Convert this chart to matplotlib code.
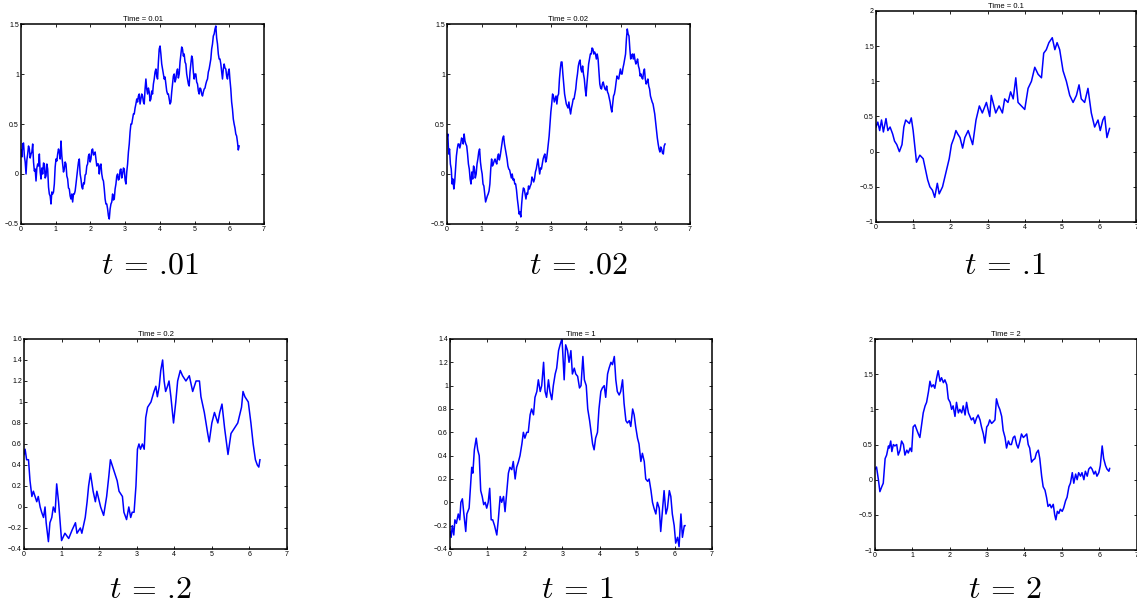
import numpy as np
import matplotlib
matplotlib.use('Agg')
import matplotlib.pyplot as plt

plt.rcParams['mathtext.fontset'] = 'cm'
plt.rcParams['font.family'] = ['Liberation Sans', 'DejaVu Sans']

# ---- data (panels on [0, 2*pi]) ----
times = ['0.01', '0.02', '0.1', '0.2', '1', '2']
label_vals = ['.01', '.02', '.1', '.2', '1', '2']

y_t001 = [0.24, 0.17, 0.3, 0.31, 0.18, 0.12, 0.0, 0.14, 0.2, 0.28, 0.25, 0.16, 0.2, 0.22, 0.3, 0.12, 0.03, 0.05, -0.07, 0.06,
          0.1, 0.08, 0.2, 0.02, -0.05, 0.06, 0.0, 0.11, 0.1, -0.04, -0.02, 0.1, 0.05, -0.13, -0.2, -0.22, -0.3, -0.18, -0.2, -0.18,
          -0.1, 0.07, 0.15, 0.13, 0.2, 0.25, 0.22, 0.15, 0.33, 0.18, 0.1, 0.02, 0.05, 0.12, 0.1, -0.02, -0.05, -0.14, -0.15, -0.22,
          -0.25, -0.2, -0.28, -0.2, -0.2, -0.17, -0.1, -0.02, 0.05, 0.12, 0.15, 0.0, -0.05, -0.13, -0.15, -0.09, -0.1, -0.01, 0.0, 0.08,
          0.1, 0.18, 0.2, 0.12, 0.15, 0.24, 0.25, 0.19, 0.2, 0.22, 0.15, 0.08, 0.1, 0.1, 0.0, 0.08, 0.1, 0.0, -0.05, -0.07,
          -0.15, -0.25, -0.3, -0.3, -0.35, -0.42, -0.45, -0.35, -0.3, -0.28, -0.2, -0.26, -0.25, -0.15, -0.1, -0.02, 0.0, -0.06, -0.05, 0.04,
          0.05, -0.04, 0.0, 0.06, 0.05, -0.06, -0.1, 0.02, 0.1, 0.22, 0.3, 0.42, 0.5, 0.5, 0.55, 0.6, 0.6, 0.66, 0.7, 0.75,
          0.72, 0.78, 0.8, 0.7, 0.75, 0.8, 0.78, 0.72, 0.7, 0.85, 0.95, 0.85, 0.8, 0.86, 0.82, 0.73, 0.75, 0.83, 0.8, 0.9,
          0.95, 1.02, 1.05, 0.98, 0.95, 1.12, 1.25, 1.28, 1.2, 1.1, 1.05, 1.0, 0.95, 0.97, 0.9, 0.83, 0.8, 0.8, 0.75, 0.7,
          0.72, 0.82, 0.9, 0.98, 1.0, 0.92, 0.95, 1.02, 1.05, 0.96, 1.0, 1.12, 1.2, 1.27, 1.25, 1.18, 1.2, 1.12, 1.1, 1.0,
          0.95, 0.9, 0.88, 1.02, 1.1, 1.18, 1.15, 1.02, 0.95, 1.0, 1.0, 0.92, 0.9, 0.83, 0.8, 0.86, 0.85, 0.8, 0.78, 0.82,
          0.85, 0.86, 0.9, 0.93, 0.95, 1.02, 1.05, 1.1, 1.15, 1.25, 1.3, 1.38, 1.4, 1.45, 1.48, 1.36, 1.3, 1.2, 1.15, 1.15,
          1.1, 1.02, 0.95, 1.05, 1.1, 1.06, 1.05, 0.98, 0.95, 1.02, 1.05, 0.94, 0.85, 0.72, 0.65, 0.55, 0.5, 0.46, 0.4, 0.38,
          0.32, 0.24, 0.28]

y_t002 = [0.35, 0.4, 0.2, 0.25, 0.1, 0.05, -0.1, -0.05, -0.15, -0.08, 0.05, 0.18, 0.25, 0.3, 0.3, 0.26, 0.3, 0.36, 0.35, 0.3,
          0.4, 0.33, 0.3, 0.28, 0.2, 0.1, 0.05, -0.05, -0.1, 0.02, -0.05, 0.08, 0.05, -0.04, 0.0, 0.1, 0.15, 0.22, 0.25, 0.12,
          0.05, 0.0, -0.1, -0.12, -0.2, -0.28, -0.25, -0.22, -0.2, -0.17, -0.1, 0.05, 0.15, 0.08, 0.1, 0.13, 0.15, 0.12, 0.1, 0.17,
          0.2, 0.14, 0.18, 0.24, 0.3, 0.36, 0.38, 0.3, 0.25, 0.2, 0.15, 0.08, 0.05, 0.04, 0.0, -0.04, 0.0, -0.06, -0.05, -0.1,
          -0.1, -0.16, -0.25, -0.32, -0.4, -0.38, -0.43, -0.3, -0.2, -0.14, -0.15, -0.2, -0.25, -0.19, -0.2, -0.12, -0.15, -0.12, -0.1, -0.03,
          -0.05, -0.08, -0.05, 0.02, 0.05, 0.1, 0.15, 0.07, 0.0, 0.06, 0.05, 0.1, 0.15, 0.18, 0.2, 0.12, 0.15, 0.22, 0.3, 0.38,
          0.5, 0.62, 0.7, 0.8, 0.78, 0.72, 0.75, 0.78, 0.7, 0.78, 0.8, 0.95, 1.05, 1.12, 1.12, 1.0, 0.9, 0.8, 0.75, 0.7,
          0.68, 0.66, 0.72, 0.65, 0.6, 0.66, 0.7, 0.75, 0.75, 0.8, 0.85, 0.94, 1.0, 1.08, 1.12, 1.14, 1.05, 1.02, 1.08, 1.0,
          0.95, 0.85, 0.78, 0.9, 1.0, 1.1, 1.15, 1.2, 1.2, 1.26, 1.25, 1.2, 1.22, 1.2, 1.15, 1.2, 1.15, 1.02, 0.9, 0.86,
          0.85, 0.9, 0.92, 0.88, 0.85, 0.84, 0.88, 0.82, 0.8, 0.76, 0.72, 0.66, 0.62, 0.7, 0.78, 0.8, 0.85, 0.92, 0.98, 0.96,
          0.95, 1.0, 1.05, 1.0, 1.0, 1.06, 1.1, 1.15, 1.2, 1.35, 1.45, 1.4, 1.38, 1.25, 1.15, 1.18, 1.2, 1.15, 1.2, 1.14,
          1.1, 1.12, 1.15, 1.08, 1.05, 0.98, 1.0, 0.96, 0.95, 1.02, 1.05, 0.95, 0.9, 0.92, 0.95, 0.88, 0.85, 0.78, 0.75, 0.72,
          0.7, 0.65, 0.6, 0.52, 0.45, 0.36, 0.3, 0.25, 0.22, 0.27, 0.25, 0.21, 0.2, 0.28, 0.3]

x_t01 = [0.0, 0.05, 0.1, 0.15, 0.2, 0.27, 0.32, 0.38, 0.45, 0.5,
         0.56, 0.63, 0.7, 0.75, 0.8, 0.9, 0.95, 1.0, 1.09, 1.18,
         1.27, 1.33, 1.39, 1.45, 1.52, 1.58, 1.65, 1.7, 1.79, 1.88,
         1.97, 2.03, 2.1, 2.15, 2.2, 2.26, 2.33, 2.39, 2.48, 2.6,
         2.69, 2.78, 2.86, 2.97, 3.06, 3.1, 3.22, 3.31, 3.4, 3.46,
         3.55, 3.62, 3.69, 3.76, 3.82, 3.91, 4.0, 4.09, 4.18, 4.27,
         4.36, 4.45, 4.51, 4.58, 4.65, 4.74, 4.81, 4.87, 4.94, 5.03,
         5.12, 5.21, 5.3, 5.39, 5.46, 5.52, 5.61, 5.7, 5.79, 5.88,
         5.97, 6.03, 6.1, 6.15, 6.21, 6.28]
y_t01 = [0.35, 0.42, 0.3, 0.45, 0.28, 0.47, 0.3, 0.35, 0.25, 0.15,
         0.1, 0.0, 0.1, 0.35, 0.45, 0.4, 0.48, 0.3, -0.15, -0.05,
         -0.1, -0.25, -0.4, -0.5, -0.55, -0.65, -0.45, -0.6, -0.5, -0.3,
         -0.1, 0.1, 0.2, 0.3, 0.25, 0.2, 0.05, 0.2, 0.3, 0.1,
         0.45, 0.65, 0.55, 0.7, 0.5, 0.8, 0.55, 0.65, 0.55, 0.75,
         0.7, 0.85, 0.75, 1.05, 0.7, 0.65, 0.6, 0.9, 1.0, 1.2,
         1.1, 1.05, 1.4, 1.45, 1.55, 1.62, 1.45, 1.55, 1.45, 1.15,
         1.0, 0.8, 0.7, 0.8, 0.95, 0.75, 0.7, 0.9, 0.55, 0.35,
         0.45, 0.3, 0.45, 0.5, 0.2, 0.33]

x_t02 = [0.0, 0.03, 0.07, 0.12, 0.16, 0.21, 0.25, 0.34, 0.38, 0.43,
         0.47, 0.52, 0.56, 0.59, 0.65, 0.69, 0.74, 0.78, 0.83, 0.87,
         0.92, 1.0, 1.09, 1.19, 1.28, 1.37, 1.41, 1.5, 1.54, 1.63,
         1.68, 1.72, 1.77, 1.84, 1.9, 1.94, 2.04, 2.12, 2.2, 2.26,
         2.3, 2.39, 2.48, 2.53, 2.62, 2.66, 2.73, 2.79, 2.84, 2.88,
         2.93, 2.98, 3.02, 3.06, 3.1, 3.15, 3.2, 3.24, 3.29, 3.38,
         3.46, 3.51, 3.55, 3.6, 3.64, 3.69, 3.73, 3.77, 3.82, 3.86,
         3.91, 3.98, 4.04, 4.09, 4.16, 4.22, 4.31, 4.4, 4.49, 4.58,
         4.67, 4.71, 4.8, 4.89, 4.93, 5.0, 5.07, 5.16, 5.21, 5.27,
         5.34, 5.43, 5.51, 5.6, 5.69, 5.79, 5.83, 5.88, 5.97, 6.04,
         6.1, 6.16, 6.21, 6.25, 6.28]
y_t02 = [0.5, 0.55, 0.45, 0.45, 0.25, 0.1, 0.15, 0.05, 0.1, 0.0,
         -0.05, -0.1, 0.0, -0.15, -0.33, -0.15, -0.1, 0.0, -0.05, 0.22,
         0.05, -0.32, -0.25, -0.3, -0.22, -0.15, -0.25, -0.2, -0.25, -0.1,
         0.05, 0.2, 0.32, 0.15, 0.05, 0.15, 0.0, -0.08, 0.1, 0.3,
         0.45, 0.35, 0.25, 0.15, 0.1, -0.05, -0.12, 0.0, -0.1, -0.05,
         -0.05, 0.2, 0.55, 0.6, 0.55, 0.6, 0.55, 0.85, 0.95, 1.0,
         1.1, 1.15, 1.05, 1.15, 1.3, 1.4, 1.2, 1.1, 1.15, 1.2,
         1.05, 0.8, 1.0, 1.2, 1.3, 1.25, 1.2, 1.25, 1.1, 1.2,
         1.2, 1.05, 0.9, 0.7, 0.62, 0.8, 0.9, 0.8, 0.9, 0.98,
         0.75, 0.5, 0.7, 0.75, 0.8, 0.95, 1.1, 1.05, 1.0, 0.8,
         0.6, 0.45, 0.4, 0.38, 0.45]

x_t1 = [0.0, 0.03, 0.06, 0.1, 0.13, 0.17, 0.22, 0.26, 0.29, 0.33,
        0.37, 0.42, 0.45, 0.51, 0.54, 0.58, 0.61, 0.65, 0.7, 0.74,
        0.78, 0.82, 0.86, 0.9, 0.94, 0.98, 1.02, 1.06, 1.1, 1.14,
        1.19, 1.25, 1.29, 1.34, 1.38, 1.43, 1.47, 1.52, 1.56, 1.6,
        1.65, 1.69, 1.74, 1.78, 1.83, 1.87, 1.92, 1.96, 2.0, 2.05,
        2.09, 2.14, 2.18, 2.23, 2.27, 2.32, 2.36, 2.41, 2.45, 2.5,
        2.54, 2.58, 2.63, 2.67, 2.72, 2.76, 2.81, 2.85, 2.9, 2.94,
        2.99, 3.01, 3.05, 3.09, 3.14, 3.18, 3.23, 3.27, 3.32, 3.36,
        3.41, 3.46, 3.5, 3.55, 3.59, 3.64, 3.68, 3.73, 3.77, 3.81,
        3.85, 3.89, 3.94, 3.98, 4.03, 4.07, 4.12, 4.16, 4.21, 4.25,
        4.3, 4.34, 4.39, 4.43, 4.47, 4.52, 4.56, 4.61, 4.65, 4.7,
        4.74, 4.79, 4.83, 4.88, 4.92, 4.96, 5.01, 5.05, 5.1, 5.14,
        5.19, 5.23, 5.28, 5.32, 5.37, 5.41, 5.45, 5.5, 5.54, 5.59,
        5.63, 5.68, 5.72, 5.77, 5.81, 5.86, 5.9, 5.94, 5.99, 6.03,
        6.08, 6.12, 6.17, 6.21, 6.26, 6.28]
y_t1 = [-0.25, -0.3, -0.2, -0.28, -0.15, -0.18, -0.1, -0.15, 0.0, 0.03,
        -0.1, -0.25, -0.1, -0.05, 0.1, 0.3, 0.25, 0.45, 0.55, 0.45,
        0.4, 0.1, 0.05, -0.02, 0.0, -0.05, 0.0, 0.12, -0.15, -0.15,
        -0.2, -0.28, -0.15, 0.05, 0.0, 0.05, -0.08, 0.1, 0.25, 0.3,
        0.28, 0.35, 0.2, 0.3, 0.35, 0.4, 0.5, 0.6, 0.55, 0.6,
        0.6, 0.75, 0.8, 0.75, 0.9, 0.95, 1.05, 0.95, 1.0, 1.2,
        0.95, 0.9, 1.05, 0.95, 0.88, 1.0, 1.1, 1.15, 1.3, 1.35,
        1.4, 1.3, 1.05, 1.35, 1.3, 1.2, 1.3, 1.1, 1.15, 1.1,
        1.08, 0.98, 1.0, 1.25, 1.05, 1.0, 0.8, 0.7, 0.6, 0.5,
        0.45, 0.55, 0.6, 0.8, 0.95, 0.98, 1.0, 0.9, 1.1, 1.15,
        1.2, 1.18, 1.25, 1.05, 0.95, 0.92, 0.95, 1.05, 0.85, 0.7,
        0.68, 0.7, 0.65, 0.8, 0.75, 0.65, 0.55, 0.5, 0.35, 0.42,
        0.35, 0.2, 0.18, 0.2, 0.1, 0.0, -0.05, -0.1, 0.0, -0.05,
        -0.25, -0.05, 0.1, -0.1, -0.05, 0.1, 0.05, -0.1, -0.2, -0.35,
        -0.3, -0.38, -0.1, -0.3, -0.2, -0.2]

x_t2 = [0.0, 0.04, 0.09, 0.13, 0.18, 0.22, 0.27, 0.31, 0.36, 0.38,
        0.42, 0.45, 0.49, 0.53, 0.58, 0.62, 0.67, 0.71, 0.76, 0.8,
        0.85, 0.89, 0.94, 0.98, 1.02, 1.07, 1.11, 1.16, 1.2, 1.25,
        1.29, 1.34, 1.38, 1.43, 1.47, 1.51, 1.56, 1.6, 1.65, 1.69,
        1.74, 1.78, 1.83, 1.87, 1.92, 1.96, 2.01, 2.05, 2.09, 2.14,
        2.18, 2.23, 2.27, 2.32, 2.36, 2.41, 2.45, 2.5, 2.54, 2.58,
        2.63, 2.67, 2.72, 2.76, 2.81, 2.85, 2.9, 2.94, 2.99, 3.03,
        3.07, 3.12, 3.16, 3.21, 3.25, 3.3, 3.34, 3.39, 3.43, 3.48,
        3.52, 3.57, 3.61, 3.65, 3.7, 3.74, 3.79, 3.83, 3.88, 3.92,
        3.97, 4.01, 4.06, 4.1, 4.14, 4.19, 4.23, 4.28, 4.32, 4.37,
        4.41, 4.46, 4.5, 4.55, 4.59, 4.63, 4.68, 4.72, 4.77, 4.81,
        4.84, 4.88, 4.92, 4.96, 5.01, 5.05, 5.1, 5.14, 5.19, 5.23,
        5.28, 5.32, 5.37, 5.41, 5.45, 5.5, 5.54, 5.59, 5.63, 5.68,
        5.72, 5.77, 5.81, 5.86, 5.9, 5.94, 5.99, 6.03, 6.08, 6.12,
        6.17, 6.21, 6.26, 6.28]
y_t2 = [0.15, 0.18, 0.0, -0.17, -0.1, -0.05, 0.3, 0.35, 0.48, 0.45,
        0.55, 0.4, 0.5, 0.48, 0.5, 0.35, 0.42, 0.55, 0.5, 0.35,
        0.42, 0.38, 0.45, 0.4, 0.75, 0.78, 0.72, 0.65, 0.6, 0.8,
        0.95, 1.05, 1.1, 1.25, 1.4, 1.32, 1.35, 1.3, 1.45, 1.55,
        1.4, 1.45, 1.38, 1.42, 1.35, 1.15, 1.1, 1.0, 1.05, 0.9,
        1.1, 0.95, 1.0, 0.95, 1.05, 0.92, 1.1, 0.95, 0.9, 0.85,
        0.88, 0.8, 0.88, 0.92, 0.85, 0.75, 0.65, 0.52, 0.75, 0.78,
        0.85, 0.8, 0.82, 0.85, 1.15, 1.05, 1.0, 0.9, 0.7, 0.6,
        0.45, 0.55, 0.5, 0.5, 0.6, 0.62, 0.5, 0.45, 0.55, 0.65,
        0.6, 0.62, 0.65, 0.5, 0.45, 0.25, 0.28, 0.3, 0.38, 0.42,
        0.3, 0.05, -0.1, -0.15, -0.25, -0.38, -0.35, -0.4, -0.35, -0.5,
        -0.57, -0.45, -0.48, -0.42, -0.45, -0.4, -0.3, -0.25, -0.1, -0.05,
        0.1, -0.05, 0.08, 0.0, 0.1, 0.05, 0.1, 0.0, 0.12, 0.05,
        0.15, 0.18, 0.15, 0.08, 0.12, 0.05, 0.1, 0.2, 0.48, 0.3,
        0.2, 0.15, 0.12, 0.16]

xs = [np.linspace(0, 2 * np.pi, len(y_t001)), np.linspace(0, 2 * np.pi, len(y_t002)),
      x_t01, x_t02, x_t1, x_t2]
ys = [y_t001, y_t002, y_t01, y_t02, y_t1, y_t2]
ylims = [(-0.5, 1.5), (-0.5, 1.5), (-1, 2), (-0.4, 1.6), (-0.4, 1.4), (-1, 2)]
yticks = [[-0.5, 0, 0.5, 1, 1.5], [-0.5, 0, 0.5, 1, 1.5], [-1, -0.5, 0, 0.5, 1, 1.5, 2],
          [-0.4, -0.2, 0, 0.2, 0.4, 0.6, 0.8, 1, 1.2, 1.4, 1.6],
          [-0.4, -0.2, 0, 0.2, 0.4, 0.6, 0.8, 1, 1.2, 1.4],
          [-1, -0.5, 0, 0.5, 1, 1.5, 2]]

# axes rectangles in figure fraction
rects = [[0.0185, 0.6334, 0.2137, 0.3273],
         [0.3931, 0.6334, 0.2137, 0.3273],
         [0.7704, 0.6367, 0.2290, 0.3453],
         [0.0211, 0.1015, 0.2313, 0.3437],
         [0.3958, 0.1015, 0.2304, 0.3437],
         [0.7696, 0.0998, 0.2300, 0.3453]]
label_pos = [(150, 266), (578, 266), (1005, 266), (150, 590), (578, 590), (1005, 590)]

fig = plt.figure(figsize=(11.37, 6.11), dpi=100)

def fmt(v):
    s = ('%g' % v)
    return s.replace('-', '\u2212')

for i in range(6):
    ax = fig.add_axes(rects[i])
    ax.plot(xs[i], ys[i], color='#0000ff', lw=1.1)
    ax.set_xlim(0, 7)
    ax.set_ylim(*ylims[i])
    ax.set_xticks(range(8))
    ax.set_yticks(yticks[i])
    ax.set_xticklabels([fmt(v) for v in range(8)])
    ax.set_yticklabels([fmt(v) for v in yticks[i]])
    ax.tick_params(direction='in', top=True, right=True, length=2.5, width=0.6,
                   labelsize=5, pad=1.5, colors='black')
    for sp in ax.spines.values():
        sp.set_linewidth(1.1)
    ax.set_title('Time = ' + times[i], fontsize=5.5, pad=2)
    # t in math italic, the rest in Computer Modern roman
    fig.text(label_pos[i][0] / 1137, 1 - label_pos[i][1] / 611,
             r'$t$ = ' + label_vals[i], family='cmr10',
             fontsize=23, ha='center', va='center')

fig.savefig('out.png', dpi=100)
